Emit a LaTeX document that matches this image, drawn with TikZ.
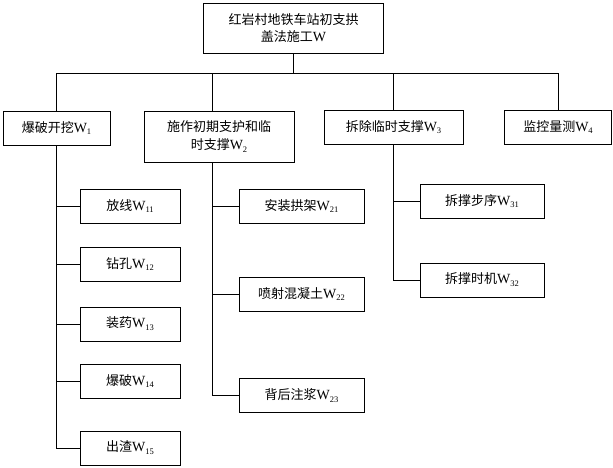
\documentclass[tikz,border=0pt]{standalone}
\usepackage{fontspec}
\setmainfont{Liberation Serif}
\newfontfamily\cjk{Noto Sans CJK SC}
\usepackage{tikz}
\usetikzlibrary{positioning}

\newcommand{\wcode}[1]{{\rmfamily\fontsize{14}{17.5}\selectfont W\raisebox{-0.45ex}{\fontsize{8.5}{9}\selectfont #1}}}

\begin{document}
\begin{tikzpicture}[
    x=1pt,y=-1pt,
    font=\cjk\fontsize{13}{17.5}\selectfont,
    box/.style={draw=black,line width=1pt,inner sep=0pt,align=center,minimum height=34pt},
    link/.style={draw=black,line width=1pt},
]
\useasboundingbox (0,0) rectangle (613,467);

% Top of the hierarchy.
\node[box,minimum width=180pt,minimum height=50pt] (root) at (293.5,28)
    {红岩村地铁车站初支拱\\盖法施工{\rmfamily\fontsize{14}{17.5}\selectfont W}};

% First level of work items.
\node[box,minimum width=107pt] (W1) at (56.5,128) {爆破开挖\wcode{1}};
\node[box,minimum width=150pt,minimum height=51pt] (W2) at (219,136.5)
    {施作初期支护和临\\时支撑\wcode{2}};
\node[box,minimum width=139pt] (W3) at (393.5,127) {拆除临时支撑\wcode{3}};
\node[box,minimum width=107pt] (W4) at (558,127) {监控量测\wcode{4}};

% Second level under W1.
\node[box,minimum width=100pt] (W11) at (130,206) {放线\wcode{11}};
\node[box,minimum width=100pt] (W12) at (130,264) {钻孔\wcode{12}};
\node[box,minimum width=100pt] (W13) at (130,324) {装药\wcode{13}};
\node[box,minimum width=100pt] (W14) at (130,381) {爆破\wcode{14}};
\node[box,minimum width=100pt] (W15) at (130,448) {出渣\wcode{15}};

% Second level under W2.
\node[box,minimum width=125pt] (W21) at (301.5,206) {安装拱架\wcode{21}};
\node[box,minimum width=125pt] (W22) at (301.5,294) {喷射混凝土\wcode{22}};
\node[box,minimum width=125pt] (W23) at (301.5,395.5) {背后注浆\wcode{23}};

% Second level under W3.
\node[box,minimum width=124pt] (W31) at (482,201) {拆撑步序\wcode{31}};
\node[box,minimum width=124pt] (W32) at (482,280) {拆撑时机\wcode{32}};

% Bus from the root to the first level.
\coordinate (bus) at (293.5,73);
\draw[link] (root.south) -- (bus);
\draw[link] (W1.north |- bus) -- (W4.north |- bus);
\foreach \item in {W1,W3,W4}{
    \draw[link] (\item.north |- bus) -- (\item.north);
}
\draw[link] ([xshift=-7pt]W2.north |- bus) -- ([xshift=-7pt]W2.north);

% Trunks to the second level.
\draw[link] (W1.south) |- (W15.west);
\foreach \item in {W11,W12,W13,W14}{
    \draw[link] (W1.south |- \item.west) -- (\item.west);
}
\draw[link] ([xshift=-7pt]W2.south) |- (W23.west);
\foreach \item in {W21,W22}{
    \draw[link] ([xshift=-7pt]W2.south |- \item.west) -- (\item.west);
}
\draw[link] (W3.south) |- (W32.west);
\draw[link] (W3.south |- W31.west) -- (W31.west);
\end{tikzpicture}
\end{document}
